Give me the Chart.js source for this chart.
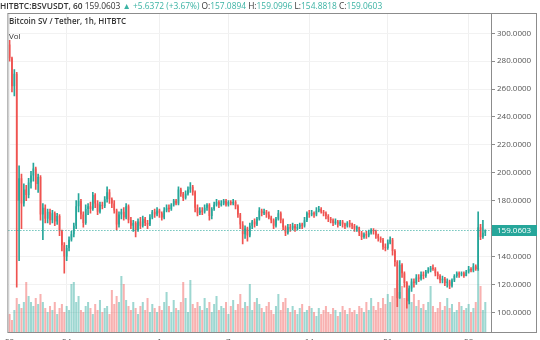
<!DOCTYPE html>
<html>
<head>
<meta charset="utf-8">
<script src="https://cdn.jsdelivr.net/npm/chart.js@4.4.1/dist/chart.umd.min.js"></script>
<style>
  html, body { margin: 0; padding: 0; background: #fff; }
  #wrap { position: relative; width: 540px; height: 340px; overflow: hidden; font-family: "Open Sans", sans-serif; }
  #chart { position: absolute; left: 0; top: 0; }
  .hdr { position: absolute; left: 0; top: 0; font-size: 8.4px; line-height: 11px; color: #333; white-space: nowrap; }
  .hdr b { font-weight: 600; }
  .up { color: #3bb3a4; }
  .legend { position: absolute; left: 9px; font-size: 8px; line-height: 11px; color: #333; white-space: nowrap; }
</style>
</head>
<body>
<div id="wrap">
  <canvas id="chart" width="540" height="340"></canvas>
  <div class="hdr"><b>HITBTC:BSVUSDT, 60</b> 159.0603 <span class="up">▲ +5.6372 (+3.67%)</span> O:<span class="up">157.0894</span> H:<span class="up">159.0996</span> L:<span class="up">154.8818</span> C:<span class="up">159.0603</span></div>
  <div class="legend" style="top:15px;font-weight:600">Bitcoin SV / Tether, 1h, HITBTC</div>
  <div class="legend" style="top:30px">Vol</div>
</div>
<script>
// BSV/USDT hourly candles, sampled; one entry per candle
const opens = [
  292, 282, 262, 271, 180, 196, 178, 188, 184, 193,
  198, 203, 192, 197, 170, 175, 167, 172, 166, 171,
  165, 169, 158, 148, 140, 146, 152, 156, 162, 176,
  180, 170, 164, 174, 176, 174, 184, 178, 172, 177,
  176, 181, 186, 181, 178, 173, 163, 170, 172, 168,
  176, 166, 162, 164, 159, 165, 162, 167, 164, 163,
  168, 172, 170, 173, 171, 168, 173, 175, 174, 177,
  180, 178, 188, 185, 182, 185, 188, 190, 186, 175,
  171, 173, 172, 175, 177, 169, 174, 177, 179, 177,
  178, 180, 177, 179, 178, 179, 176, 170, 163, 156,
  160, 155, 162, 165, 163, 167, 173, 171, 172, 170,
  168, 166, 162, 167, 171, 166, 161, 157, 161, 160,
  162, 160, 161, 163, 162, 166, 171, 170, 171, 170,
  173, 174, 172, 171, 169, 167, 166, 164, 165, 163,
  165, 163, 162, 164, 163, 162, 160, 161, 157, 154,
  156, 155, 157, 159, 158, 155, 153, 152, 147, 146,
  150, 152, 144, 136, 110, 134, 128, 121, 108, 117,
  122, 121, 125, 124, 127, 126, 129, 130, 132, 131,
  128, 126, 123, 124, 121, 122, 119, 123, 126, 128,
  127, 128, 126, 129, 131, 130, 133, 131, 161, 154,
  157.0894
];
const highs = [
  295, 283, 274, 272, 205, 199, 192, 191, 196, 201,
  207, 204, 199, 198, 178, 177, 174, 174, 173, 172,
  171, 170, 159, 150, 148, 154, 158, 164, 180, 185,
  181, 172, 177, 178, 179, 186, 185, 180, 179, 179,
  183, 190, 188, 182, 180, 174, 172, 174, 175, 178,
  177, 168, 166, 165, 167, 168, 169, 168, 166, 170,
  173, 174, 175, 174, 172, 175, 177, 177, 178, 181,
  181, 190, 189, 186, 187, 190, 193, 191, 187, 177,
  175, 175, 177, 178, 178, 175, 179, 181, 180, 180,
  181, 181, 180, 180, 181, 180, 177, 171, 165, 162,
  161, 164, 166, 167, 168, 175, 174, 174, 173, 172,
  169, 167, 168, 173, 172, 167, 162, 163, 163, 164,
  163, 163, 164, 164, 168, 172, 173, 173, 172, 175,
  176, 175, 173, 172, 170, 168, 167, 167, 166, 166,
  166, 164, 165, 166, 164, 163, 162, 161, 158, 157,
  158, 159, 160, 160, 159, 156, 154, 153, 149, 152,
  154, 153, 145, 137, 137, 135, 129, 122, 119, 124,
  124, 127, 127, 129, 129, 130, 132, 133, 134, 132,
  129, 127, 126, 125, 124, 123, 124, 127, 129, 129,
  129, 129, 130, 133, 132, 135, 134, 172, 163, 166,
  159.0996
];
const lows = [
  280, 258, 255, 118, 137, 160, 176, 180, 182, 189,
  194, 188, 186, 166, 152, 164, 164, 163, 164, 162,
  163, 155, 144, 128, 137, 144, 151, 154, 160, 172,
  167, 161, 163, 170, 171, 173, 175, 170, 171, 174,
  175, 179, 178, 175, 171, 159, 161, 167, 166, 167,
  164, 160, 158, 154, 158, 160, 161, 162, 160, 162,
  167, 168, 169, 168, 166, 167, 172, 172, 173, 176,
  177, 177, 183, 180, 181, 184, 186, 184, 172, 169,
  170, 170, 171, 173, 166, 167, 173, 176, 175, 176,
  177, 176, 176, 177, 177, 174, 168, 160, 149, 153,
  151, 154, 160, 161, 162, 166, 169, 170, 168, 167,
  164, 160, 161, 166, 164, 159, 155, 156, 158, 159,
  158, 159, 160, 160, 161, 165, 168, 169, 168, 169,
  172, 171, 169, 167, 165, 164, 162, 163, 161, 162,
  161, 160, 161, 161, 160, 158, 158, 155, 152, 153,
  153, 154, 156, 156, 153, 151, 150, 145, 144, 145,
  149, 141, 133, 104, 110, 125, 118, 103, 106, 115,
  118, 120, 122, 123, 124, 125, 128, 129, 130, 126,
  124, 121, 121, 119, 118, 117, 118, 122, 125, 125,
  126, 125, 126, 128, 129, 129, 130, 130, 152, 153,
  154.8818
];
const closes = [
  282, 262, 271, 180, 196, 178, 188, 184, 193, 198,
  203, 192, 197, 170, 175, 167, 172, 166, 171, 165,
  169, 158, 148, 140, 146, 152, 156, 162, 176, 180,
  170, 164, 174, 176, 174, 184, 178, 172, 177, 176,
  181, 186, 181, 178, 173, 163, 170, 172, 168, 176,
  166, 162, 164, 159, 165, 162, 167, 164, 163, 168,
  172, 170, 173, 171, 168, 173, 175, 174, 177, 180,
  178, 188, 185, 182, 185, 188, 190, 186, 175, 171,
  173, 172, 175, 177, 169, 174, 177, 179, 177, 178,
  180, 177, 179, 178, 179, 176, 170, 163, 156, 160,
  155, 162, 165, 163, 167, 173, 171, 172, 170, 168,
  166, 162, 167, 171, 166, 161, 157, 161, 160, 162,
  160, 161, 163, 162, 166, 171, 170, 171, 170, 173,
  174, 172, 171, 169, 167, 166, 164, 165, 163, 165,
  163, 162, 164, 163, 162, 160, 161, 157, 154, 156,
  155, 157, 159, 158, 155, 153, 152, 147, 146, 150,
  152, 144, 136, 110, 134, 128, 121, 108, 117, 122,
  121, 125, 124, 127, 126, 129, 130, 132, 131, 128,
  126, 123, 124, 121, 122, 119, 123, 126, 128, 127,
  128, 126, 129, 131, 130, 133, 131, 161, 154, 157.0894,
  159.0603
];
// volume, in thousands of BSV
const volumes = [
  18, 12, 22, 34, 28, 24, 30, 50, 36, 30,
  26, 34, 28, 38, 30, 24, 20, 26, 22, 30,
  18, 24, 28, 20, 26, 22, 48, 50, 30, 36,
  22, 20, 26, 30, 24, 18, 28, 22, 32, 20,
  24, 26, 18, 42, 28, 36, 30, 56, 48, 32,
  26, 22, 30, 24, 18, 26, 30, 22, 34, 20,
  28, 24, 20, 26, 22, 30, 40, 26, 20, 32,
  24, 22, 30, 50, 34, 20, 52, 28, 24, 30,
  26, 22, 34, 24, 30, 20, 28, 36, 22, 26,
  24, 30, 18, 26, 32, 22, 28, 38, 24, 30,
  26, 48, 22, 30, 34, 28, 24, 20, 26, 30,
  22, 18, 26, 38, 22, 30, 34, 24, 20, 26,
  22, 18, 24, 28, 20, 22, 26, 24, 20, 16,
  24, 18, 22, 26, 20, 18, 24, 22, 16, 20,
  26, 22, 18, 24, 20, 22, 18, 26, 24, 20,
  30, 22, 34, 26, 22, 30, 24, 34, 28, 38,
  30, 36, 44, 52, 40, 46, 34, 50, 44, 30,
  38, 26, 32, 24, 28, 22, 30, 46, 26, 20,
  24, 30, 22, 26, 34, 24, 28, 20, 22, 30,
  26, 22, 24, 28, 20, 24, 30, 64, 46, 22,
  30
];

// date labels on the time axis and the candle they sit under
const dayIndex = [0, 24, 63, 92, 126, 159, 193];
const dayText = ['20', '24', '1', '7', '14', '21', '28'];
const priceTicks = [100, 120, 140, 160, 180, 200, 220, 240, 260, 280, 300];

const UP = '#26a69a';
const DOWN = '#ef5350';

const idx = closes.map((_, i) => i);
const isUp = idx.map(i => closes[i] >= opens[i]);
const candleColors = isUp.map(u => (u ? UP : DOWN));
const volColors = isUp.map(u => (u ? 'rgba(38,166,154,0.45)' : 'rgba(239,83,80,0.45)'));

const overlay = {
  id: 'overlay',
  afterDatasetsDraw(chart) {
    const { ctx, chartArea: a, scales } = chart;
    const last = closes[closes.length - 1];
    const py = Math.round(scales.y.getPixelForValue(last)) + 0.5;
    ctx.save();
    // last price line
    ctx.strokeStyle = UP;
    ctx.lineWidth = 1;
    ctx.setLineDash([1, 2]);
    ctx.beginPath();
    ctx.moveTo(a.left, py);
    ctx.lineTo(a.right, py);
    ctx.stroke();
    ctx.setLineDash([]);
    // pane frame and price axis separator
    ctx.strokeStyle = '#8c8c8c';
    ctx.strokeRect(a.left - 0.5, a.top - 0.5, 537 - a.left, a.bottom - a.top + 1);
    ctx.beginPath();
    ctx.moveTo(a.right + 0.5, a.top);
    ctx.lineTo(a.right + 0.5, a.bottom);
    ctx.stroke();
    // last price badge
    ctx.fillStyle = UP;
    ctx.fillRect(a.right + 1, py - 5.5, 45, 11);
    ctx.fillStyle = '#fff';
    ctx.font = '8px "Open Sans"';
    ctx.textBaseline = 'middle';
    ctx.fillText(last.toFixed(4), a.right + 6, py);
    ctx.restore();
  }
};

new Chart(document.getElementById('chart'), {
  type: 'bar',
  data: {
    datasets: [
      {
        label: 'body',
        data: idx.map(i => ({ x: i, y: [opens[i], closes[i]] })),
        backgroundColor: candleColors,
        barPercentage: 0.65,
        categoryPercentage: 1,
        grouped: false,
        order: 1
      },
      {
        label: 'wick',
        data: idx.map(i => ({ x: i, y: [lows[i], highs[i]] })),
        backgroundColor: candleColors,
        barThickness: 1,
        grouped: false,
        order: 2
      },
      {
        label: 'Vol',
        data: idx.map(i => ({ x: i, y: volumes[i] })),
        backgroundColor: volColors,
        barPercentage: 0.85,
        categoryPercentage: 1,
        grouped: false,
        yAxisID: 'vol',
        order: 3
      }
    ]
  },
  options: {
    responsive: false,
    animation: false,
    layout: { padding: { left: 4, top: 14, right: 0, bottom: 0 } },
    plugins: { legend: { display: false }, tooltip: { enabled: false } },
    scales: {
      x: {
        type: 'linear',
        min: -0.5,
        max: 202.4,
        offset: false,
        grid: { color: '#f0f0f0', offset: false, drawTicks: false },
        border: { display: false },
        ticks: {
          autoSkip: false,
          maxRotation: 0,
          padding: 5,
          color: '#555',
          font: { family: 'Open Sans', size: 8 },
          callback: v => dayText[dayIndex.indexOf(v)] ?? ''
        },
        afterBuildTicks: s => { s.ticks = dayIndex.map(v => ({ value: v })); },
        afterFit: s => { s.height = 8; }
      },
      y: {
        position: 'right',
        min: 85.87,
        max: 313.8,
        grid: { color: '#f2f2f2', tickColor: '#8c8c8c', tickLength: 4 },
        border: { display: false },
        ticks: {
          padding: 2,
          color: '#555',
          font: { family: 'Open Sans', size: 8 },
          callback: v => Number(v).toFixed(4)
        },
        afterBuildTicks: s => { s.ticks = priceTicks.map(v => ({ value: v })); },
        afterFit: s => { s.width = 49; }
      },
      vol: { display: false, min: 0, max: 318 }
    }
  },
  plugins: [overlay]
});
</script>
</body>
</html>
